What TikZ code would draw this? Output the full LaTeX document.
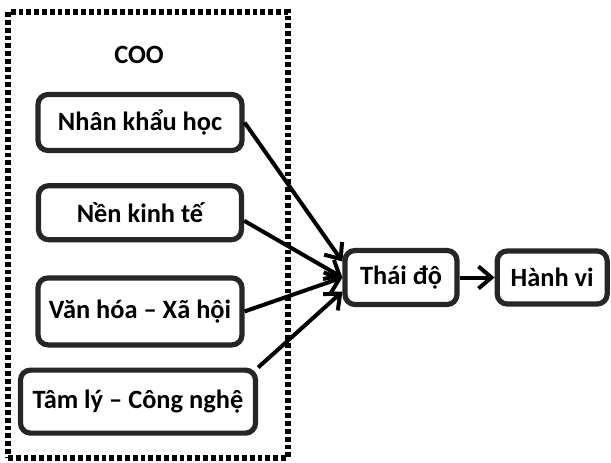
\documentclass[tikz,border=0pt]{standalone}
\usepackage{fontspec}
\setmainfont{Carlito}
\usetikzlibrary{positioning}
\usetikzlibrary{fit}
\usetikzlibrary{arrows.meta}

\tikzset{
  box/.style={rectangle, draw=black!85, line width=2.6pt, rounded corners=5pt, align=center},
  arr/.style={draw=black, line width=2pt, -{Straight Barb[length=6.5pt,width=11pt]}},
  dotframe/.style={draw=black, line width=2.6pt, dash pattern=on 2.4pt off 1.5pt}
}

\begin{document}
\begin{tikzpicture}[x=0.5pt,y=-0.5pt,font=\fontsize{13.2}{15}\selectfont\bfseries]
  \useasboundingbox (0,0) rectangle (611,462);

  \node(frame)[fit={(8,12)(288,458)}, inner sep=0pt, dotframe] {};
  \node(coo) at (139,55) {COO};

  \node(nk)[box, minimum width=102pt, minimum height=28pt] at (140,122.5) {Nhân khẩu học};
  \node(kt)[box, minimum width=101.5pt, minimum height=27pt, below=15pt of nk] {Nền kinh tế};
  \node(vh)[box, minimum width=102pt, minimum height=33.5pt, below=16.5pt of kt] {Văn hóa – Xã hội};
  \node(tl)[box, minimum width=117.5pt, minimum height=31.5pt, below=10pt of vh, xshift=-1pt] {Tâm lý – Công nghệ};

  \node(td)[box, minimum width=56pt, minimum height=27pt] at (401,277.5) {Thái độ};
  \node(hv)[box, minimum width=55pt, minimum height=26.5pt, right=17.5pt of td] {Hành vi};

  \draw[arr](nk.east)--([yshift=8pt]td.west);
  \draw[arr]([yshift=-4pt]kt.east)--(td.west);
  \draw[arr](vh.east)--(td.west);
  \draw[arr](tl.north east)--([yshift=-7pt]td.west);
  \draw[arr](td)--(hv);

\end{tikzpicture}
\end{document}
